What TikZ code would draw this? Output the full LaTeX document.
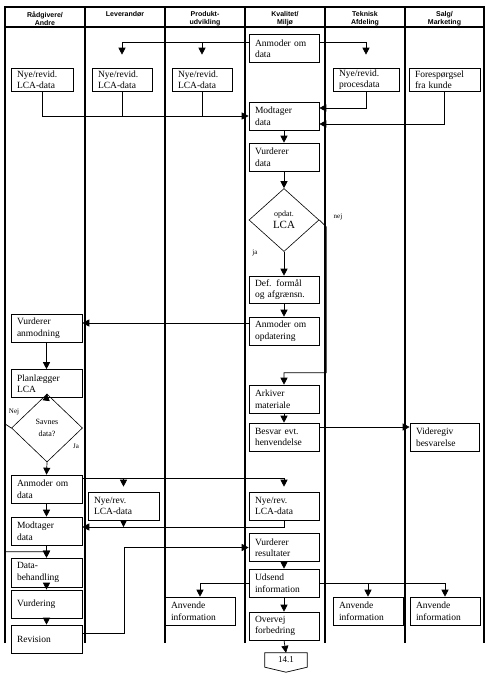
\documentclass[tikz,border=0pt]{standalone}
\usepackage{fontspec}
\setmainfont{Liberation Serif}
\newfontfamily\headfont{Liberation Sans}
\usetikzlibrary{shapes.geometric, arrows.meta}

\begin{document}
\begin{tikzpicture}[x=1pt, y=-1pt]
  \tikzstyle{box} = [rectangle, draw=black, line width=0.6pt, text width=58pt, inner xsep=6pt, inner ysep=1pt, minimum height=28pt, align=left, font=\fontsize{9.5}{11.5}\selectfont]
  \tikzstyle{dec} = [diamond, draw=black, line width=0.6pt, inner sep=0pt, align=center]
  \tikzstyle{con} = [line width=0.7pt]
  \tikzstyle{arr} = [con, -{Triangle[length=7pt,width=7pt]}]
  \tikzstyle{lane} = [line width=1.1pt]
  \tikzstyle{head} = [font=\headfont\bfseries\fontsize{7}{8}\selectfont, align=center, anchor=north]
  \tikzstyle{lbl} = [font=\fontsize{7}{8}\selectfont]
  \useasboundingbox (0,0) rectangle (490,683);

  % swimlanes (open at the bottom)
  \draw[lane] (5,643) -- (5,7) -- (484,7) -- (484,643);
  \draw[lane] (5,27) -- (484,27);
  \foreach \x in {85,165,245,325,405}
    \draw[lane] (\x,7) -- (\x,643);
  \foreach \x/\t [count=\i] in {45/{Rådgivere/\\Andre}, 125/{Leverandør}, 205/{Produkt-\\udvikling},
      285/{Kvalitet/\\Miljø}, 365/{Teknisk\\Afdeling}, 444.5/{Salg/\\Marketing}}
    \node[head] (h\i) at (\x,8) {\t};

  % Kvalitet/Miljoe
  \node[box] (anmdata) at (284,48.5) {Anmoder om\\data};
  \node[box] (modt) at (284,116) {Modtager\\data};
  \node[box] (vurd) at (284,157) {Vurderer\\data};
  \node[dec, minimum width=70pt, minimum height=63pt] (opd) at (284,220)
    {{\fontsize{8}{9}\selectfont opdat.}\\{\fontsize{11}{12}\selectfont LCA}};
  \node[box, minimum height=27pt] (def) at (284,289.5) {Def. formål\\og afgrænsn.};
  \node[box] (anmopd) at (284,331) {Anmoder om\\opdatering};
  \node[box] (ark) at (284,399) {Arkiver\\materiale};
  \node[box] (besv) at (284,437) {Besvar evt.\\henvendelse};
  \node[box] (nye5) at (284,506) {Nye/rev.\\LCA-data};
  \node[box] (vres) at (284,547.5) {Vurderer\\resultater};
  \node[box] (uds) at (284,583) {Udsend\\information};
  \node[box] (overv) at (284,626) {Overvej\\forbedring};
  \node[font=\fontsize{9}{10}\selectfont, minimum width=42pt, minimum height=14pt] (pg) at (286,660) {14.1};
  \draw[con] (pg.south west) -- (pg.north west) -- (pg.north east) -- (pg.south east)
    -- ([yshift=-5pt]pg.south) -- cycle;

  % first row of data sources
  \node[box, text width=50pt, minimum height=23pt] (raad) at (42,79.5) {Nye/revid.\\LCA-data};
  \node[box, text width=48pt, minimum height=23pt] (lev) at (122,79.5) {Nye/revid.\\LCA-data};
  \node[box, text width=48pt, minimum height=23pt] (prod) at (202,79.5) {Nye/revid.\\LCA-data};
  \node[box, text width=54pt, minimum height=23pt] (tek) at (366,79.5) {Nye/revid.\\procesdata};
  \node[box, text width=59pt, minimum height=23pt] (salg) at (444.5,79.5) {Forespørgsel\\fra kunde};

  % Raadgivere/Andre
  \node[box, text width=59pt] (vanm) at (46.5,328) {Vurderer\\anmodning};
  \node[box, text width=59pt] (plan) at (46.5,383.5) {Planlægger\\LCA};
  \node[dec, minimum width=71pt, minimum height=68pt, font=\fontsize{8}{12}\selectfont] (savn) at (47,428) {Savnes\\data?};
  \node[box, text width=59pt] (anm2) at (46.5,489) {Anmoder om\\data};
  \node[box, text width=59pt] (mod2) at (46.5,531) {Modtager\\data};
  \node[box, text width=59pt, minimum height=29pt] (datab) at (46.5,572.5) {Data-\\behandling};
  \node[box, text width=59pt] (vurdg) at (46.5,604) {Vurdering};
  \node[box, text width=59pt] (rev) at (46.5,639) {Revision};

  % other lanes
  \node[box, text width=59pt] (lev2) at (123.5,506) {Nye/rev.\\LCA-data};
  \node[box] (anv1) at (200,611) {Anvende\\information};
  \node[box] (anv2) at (368,611) {Anvende\\information};
  \node[box] (anv3) at (445,611) {Anvende\\information};
  \node[box, text width=57pt] (vid) at (444.5,437) {Videregiv\\besvarelse};

  % labels
  \node[lbl] (nej1) at (338,217) {nej};
  \node[lbl] (ja1) at (255,253) {ja};
  \node[lbl] (nej2) at (14,412) {Nej};
  \node[lbl] (ja2) at (76,446) {Ja};

  % request for data
  \draw[arr, shorten >=13pt] ([yshift=6pt]anmdata.west) -| (lev.north);
  \draw[arr, shorten >=13pt] ([yshift=6pt]anmdata.west) -| (prod.north);
  \draw[arr, shorten >=13pt] ([yshift=6pt]anmdata.east) -| (tek.north);
  \draw[arr] (raad.south) |- (modt.west);
  \draw[con] (lev.south) -- (lev.south |- modt.west);
  \draw[con] (prod.south) -- (prod.south |- modt.west);
  \draw[arr] (tek.south) |- ([yshift=8pt]modt.east);
  \draw[arr] (salg.south) |- ([yshift=-8pt]modt.east);

  % quality flow
  \draw[arr] (modt.south) -- (vurd.north);
  \draw[arr] (vurd.south) -- (opd.north);
  \draw[arr] (opd.south) -- (def.north);
  \draw[arr] (def.south) -- (anmopd.north);
  \coordinate (q1) at ([yshift=8pt]anmopd.west);
  \draw[arr] (q1) -- (q1 -| vanm.east);
  \draw[arr] (opd.east) -- ++(7,7) |- ([yshift=12pt]ark.north) -- (ark.north);
  \draw[arr] (ark.south) -- (besv.north);
  \coordinate (q2) at ([yshift=10pt]besv.east);
  \draw[arr] (q2) -- (q2 -| vid.west);

  % LCA flow
  \draw[arr] (vanm.south) -- (plan.north);
  \draw[arr] (plan.south) -- (savn.north);
  \draw[arr] (savn.south) -- (anm2.north);
  \draw[arr] (savn.west) -- ++(-6,-4) |- ([yshift=6pt]datab.north) -- (datab.north);
  \coordinate (q3) at ([yshift=11pt]anm2.east);
  \draw[arr, shorten >=5pt] (q3) -| (lev2.north);
  \draw[arr, shorten >=5pt] (q3) -| (nye5.north);
  \coordinate (q4) at ([yshift=4pt]mod2.east);
  \draw[arr] (nye5.south) |- (q4);
  \draw[arr] (lev2.south) -- (lev2.south |- q4);
  \draw[arr] (anm2.south) -- (mod2.north);
  \draw[arr] (mod2.south) -- (datab.north);
  \draw[arr] (datab.south) -- (vurdg.north);
  \draw[arr] (vurdg.south) -- (rev.north);
  \draw[arr] ([yshift=6pt]rev.east) -- ++(42,0) |- (vres.west);

  % results
  \draw[arr] (vres.south) -- (uds.north);
  \draw[arr] (uds.south) -- (overv.north);
  \draw[arr] (overv.south) -- (pg.north);
  \draw[arr] (uds.west) -| (anv1.north);
  \draw[arr] (uds.east) -| (anv2.north);
  \draw[arr] (uds.east) -| (anv3.north);
\end{tikzpicture}
\end{document}
